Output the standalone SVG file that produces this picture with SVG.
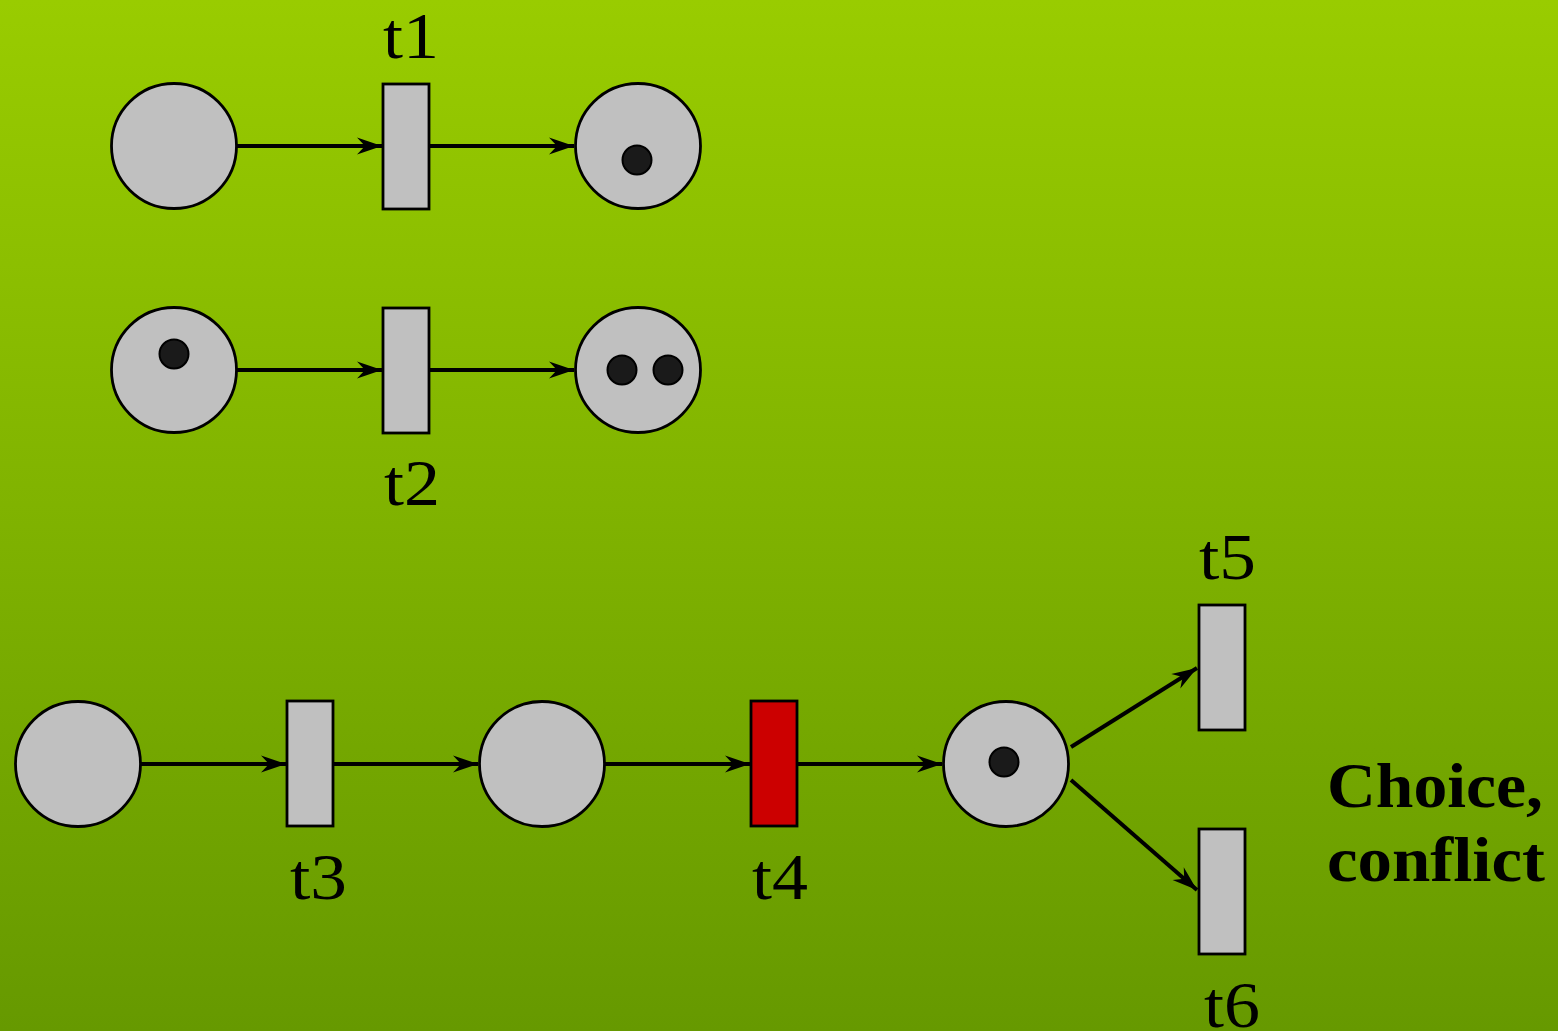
<svg xmlns="http://www.w3.org/2000/svg" width="1558" height="1031" viewBox="0 0 1558 1031">
<defs>
<linearGradient id="bg" x1="0" y1="0" x2="0" y2="1">
<stop offset="0" stop-color="#99cc00"/>
<stop offset="1" stop-color="#669900"/>
</linearGradient>
<marker id="arr" markerUnits="userSpaceOnUse" markerWidth="30" markerHeight="20" viewBox="-26 -10 28 20" refX="0" refY="0" orient="auto">
<path d="M0,0 L-25,-8.5 L-17,0 L-25,8.5 Z" fill="#000"/>
</marker>
<style>
.place{fill:#c0c0c0;stroke:#000;stroke-width:2.8}
.trans{fill:#c0c0c0;stroke:#000;stroke-width:2.8}
.tok{fill:#1a1a1a;stroke:#000;stroke-width:2}
.arc{stroke:#000;stroke-width:4;fill:none;marker-end:url(#arr)}
.lbl{font-family:"Liberation Serif","DejaVu Serif",serif;font-size:66px;fill:#000}
.bold{font-family:"Liberation Serif","DejaVu Serif",serif;font-size:64px;font-weight:bold;fill:#000}
</style>
</defs>
<rect x="0" y="0" width="1558" height="1031" fill="url(#bg)"/>
<g id="connectors">
<line class="arc" x1="237" y1="146" x2="382" y2="146"/>
<line class="arc" x1="429" y1="146" x2="574" y2="146"/>
<line class="arc" x1="237" y1="370" x2="382" y2="370"/>
<line class="arc" x1="429" y1="370" x2="574" y2="370"/>
<line class="arc" x1="141" y1="764" x2="286" y2="764"/>
<line class="arc" x1="333" y1="764" x2="478" y2="764"/>
<line class="arc" x1="605" y1="764" x2="750" y2="764"/>
<line class="arc" x1="797" y1="764" x2="942" y2="764"/>
<line class="arc" x1="1071" y1="747" x2="1197" y2="668"/>
<line class="arc" x1="1071" y1="780" x2="1197" y2="890"/>
</g>
<g id="p1"><circle class="place" cx="174" cy="146" r="62.5"/></g>
<g id="t1"><rect class="trans" x="383" y="84" width="46" height="125"/><text class="lbl" x="383" y="58" textLength="56" lengthAdjust="spacingAndGlyphs">t1</text></g>
<g id="p2"><circle class="place" cx="638" cy="146" r="62.5"/><circle class="tok" cx="637" cy="160" r="14.5"/></g>
<g id="p3"><circle class="place" cx="174" cy="370" r="62.5"/><circle class="tok" cx="174" cy="354" r="14.5"/></g>
<g id="t2"><rect class="trans" x="383" y="308" width="46" height="125"/><text class="lbl" x="384" y="505" textLength="56" lengthAdjust="spacingAndGlyphs">t2</text></g>
<g id="p4"><circle class="place" cx="638" cy="370" r="62.5"/><circle class="tok" cx="622" cy="370" r="14.5"/><circle class="tok" cx="668" cy="370" r="14.5"/></g>
<g id="p5"><circle class="place" cx="78" cy="764" r="62.5"/></g>
<g id="t3"><rect class="trans" x="287" y="701" width="46" height="125"/><text class="lbl" x="290" y="899" textLength="57" lengthAdjust="spacingAndGlyphs">t3</text></g>
<g id="p6"><circle class="place" cx="542" cy="764" r="62.5"/></g>
<g id="t4"><rect class="trans" x="751" y="701" width="46" height="125" style="fill:#cc0000"/><text class="lbl" x="752" y="899" textLength="56" lengthAdjust="spacingAndGlyphs">t4</text></g>
<g id="p7"><circle class="place" cx="1006" cy="764" r="62.5"/><circle class="tok" cx="1004" cy="762" r="14.5"/></g>
<g id="t5"><rect class="trans" x="1199" y="605" width="46" height="125"/><text class="lbl" x="1199" y="579" textLength="57" lengthAdjust="spacingAndGlyphs">t5</text></g>
<g id="t6"><rect class="trans" x="1199" y="829" width="46" height="125"/><text class="lbl" x="1204" y="1027" textLength="56" lengthAdjust="spacingAndGlyphs">t6</text></g>
<g id="note"><text class="bold" x="1327" y="807" textLength="216" lengthAdjust="spacingAndGlyphs">Choice,</text><text class="bold" x="1327" y="881" textLength="218" lengthAdjust="spacingAndGlyphs">conflict</text></g>
</svg>
